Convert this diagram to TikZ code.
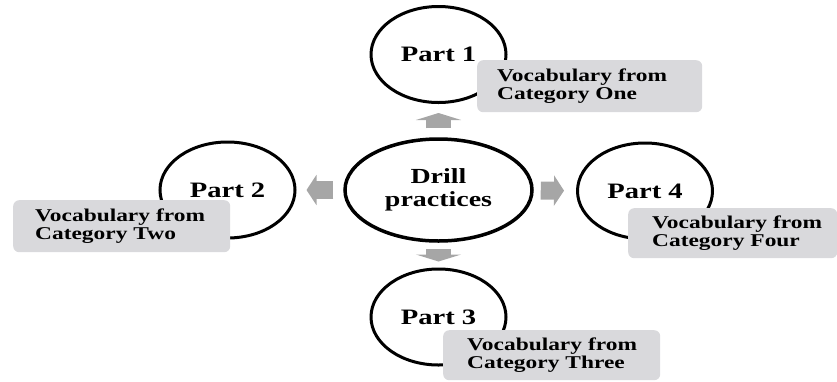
\documentclass[tikz,border=0pt]{standalone}
\usepackage{fontspec}
\setmainfont{Liberation Serif}[FakeStretch=1.3]
\usetikzlibrary{arrows.meta,shapes.geometric}
\definecolor{boxgray}{RGB}{217,217,220}
\definecolor{arrowgray}{RGB}{166,166,166}
\begin{document}
\begin{tikzpicture}[x=1pt,y=-1pt,
  part/.style={ellipse, draw, line width=3pt, minimum width=135pt, minimum height=96pt,
    inner sep=0pt, fill=white, font=\fontsize{22}{24}\selectfont\bfseries},
  hub/.style={ellipse, draw, line width=3.5pt, minimum width=187pt, minimum height=102pt,
    inner sep=0pt, fill=white, align=center, font=\fontsize{21.5}{23}\selectfont\bfseries},
  vbox/.style={fill=boxgray, rounded corners=6pt, anchor=north west, inner ysep=0pt,
    align=left, font=\fontsize{18}{18.5}\selectfont\bfseries},
  varrow/.style={draw=arrowgray, line width=25pt, -{Triangle[width=45pt,length=7pt]}},
  harrow/.style={draw=arrowgray, line width=18pt, -{Triangle[width=30pt,length=10pt]}}
]
\useasboundingbox (0,0) rectangle (837,381);
\node[part] (p1) at (438.5,54.5) {Part 1};
\node[part] (p2) at (227.5,190) {Part 2};
\node[part] (p4) at (645,191) {Part 4};
\node[part] (p3) at (438.5,317) {Part 3};
\node[hub] (c) at (438.5,190) {Drill\\practices};
\draw[varrow, shorten <=9pt, shorten >=9pt] (c) -- (p1);
\draw[varrow, shorten <=6pt, shorten >=6pt] (c) -- (p3);
\draw[harrow, shorten <=10pt, shorten >=10pt] (c) -- (p2);
\draw[harrow, shorten <=7pt, shorten >=12pt] (c) -- (p4);
\node[vbox, inner xsep=20pt, text width=185pt, minimum height=52pt] (b1) at (477,60)
  {\mbox{Vocabulary from}\\\mbox{Category One}};
\node[vbox, inner xsep=22pt, text width=173pt, minimum height=52pt] (b2) at (13,200)
  {\mbox{Vocabulary from}\\\mbox{Category Two}};
\node[vbox, inner xsep=24pt, text width=161pt, minimum height=50pt] (b4) at (628,208)
  {\mbox{Vocabulary from}\\\mbox{Category Four}};
\node[vbox, inner xsep=24pt, text width=169pt, minimum height=50pt] (b3) at (443,330)
  {\mbox{Vocabulary from}\\\mbox{Category Three}};
\end{tikzpicture}
\end{document}
